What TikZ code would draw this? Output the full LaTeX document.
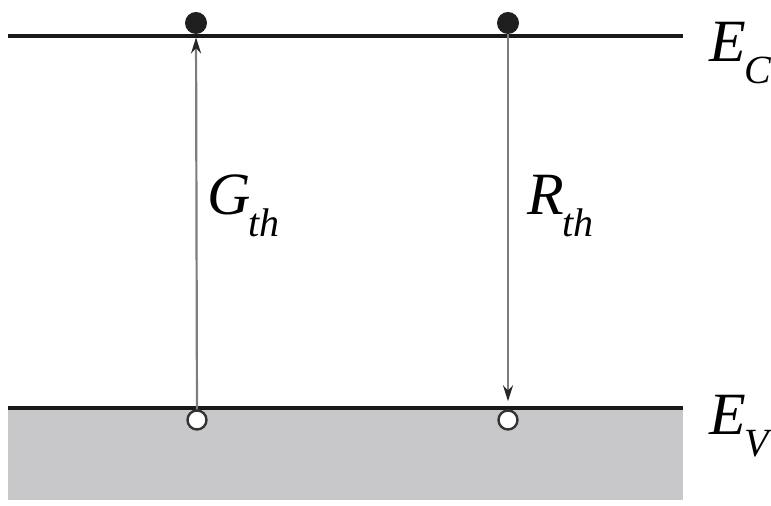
\documentclass[tikz,border=0pt]{standalone}
\usepackage{fontspec}
\setmainfont{Liberation Serif}
\usetikzlibrary{arrows.meta}
\definecolor{bandgray}{RGB}{200,200,202}
\definecolor{transgray}{RGB}{125,125,125}
\newcommand{\lvl}[2]{\fontsize{30}{30}\selectfont\itshape #1\kern-1pt\raisebox{-11pt}{\fontsize{20}{20}\selectfont #2}}

\begin{document}
\begin{tikzpicture}[x=0.5pt,y=0.5pt,
  band/.style={line width=2pt, black!90},
  electron/.style={circle, fill=black!88, inner sep=0pt, minimum size=11pt},
  hole/.style={circle, draw=black!80, fill=white, line width=1.2pt, inner sep=0pt, minimum size=9.5pt},
  trans/.style={transgray, line width=1.1pt, -{Stealth[length=8pt,width=5pt,color=black!85]}},
  lbl/.style={anchor=base west, inner sep=0pt}]
\useasboundingbox (0,0) rectangle (771,506);
\fill[bandgray] (8,6) rectangle (683,98);
\coordinate (cl) at (8,470);
\coordinate (cr) at (683,470);
\coordinate (vl) at (8,98);
\coordinate (vr) at (683,98);
\draw[band] (cl) -- (cr);
\draw[band] (vl) -- (vr);
\node[electron] (c1) at (196,483) {};
\node[electron] (c2) at (508,483) {};
\node[hole] (v1) at (197,86) {};
\node[hole] (v2) at (508,86) {};
\draw[trans, shorten >=1.5pt] (v1) -- (c1);
\draw[trans, shorten >=4pt] (c2) -- (v2);
\node[lbl] (gth) at (207,291) {\lvl{G}{th}};
\node[lbl] (rth) at (527,291) {\lvl{R}{th}};
\node[lbl] (ec) at (709,444) {\lvl{E}{C}};
\node[lbl] (ev) at (709,71) {\lvl{E}{V}};
\end{tikzpicture}
\end{document}
